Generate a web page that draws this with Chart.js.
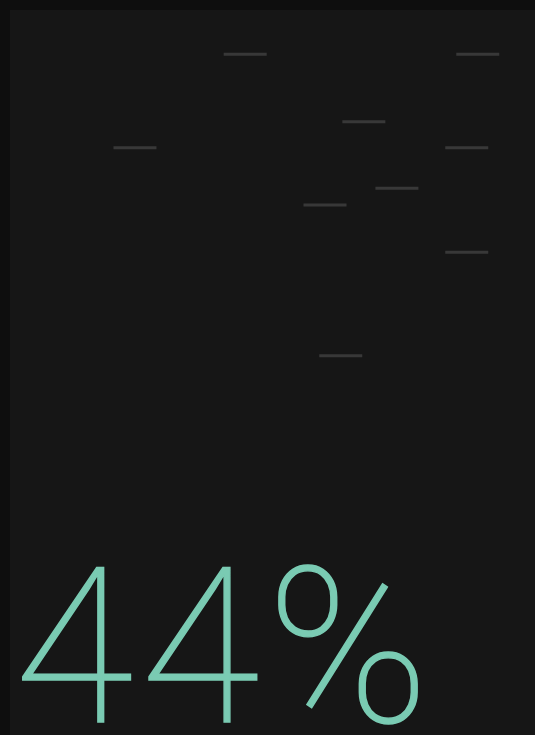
<!DOCTYPE html>
<html>
<head>
<meta charset="utf-8">
<script src="https://cdn.jsdelivr.net/npm/chart.js@4"></script>
<style>
  html, body { margin: 0; padding: 0; background: #0e0e0e; }
  #wrap { position: relative; width: 535px; height: 735px; }
</style>
</head>
<body>
<div id="wrap"><canvas id="dashChart" width="535" height="735"></canvas></div>
<script>
// Values (0-100 on both axes)
const xValues = [44.8, 89.1, 23.8, 67.4, 87.0, 73.7, 60.0, 87.0, 63.0];
const yValues = [93.9, 93.9, 81.0, 84.6, 81.0, 75.4, 73.1, 66.6, 52.3];
const bigLabel = '44%';

const points = xValues.map((x, i) => ({ x: x, y: yValues[i] }));

// panel background + big number
const panelPlugin = {
    id: 'panel',
    beforeDraw(chart) {
        const c = chart.ctx;
        c.save();
        c.fillStyle = '#161616';
        c.fillRect(10, 10, chart.width - 10, chart.height - 10);
        c.restore();
    },
    afterDraw(chart) {
        const c = chart.ctx;
        c.save();
        c.fillStyle = '#7acbb3';
        c.strokeStyle = '#7acbb3';
        c.lineWidth = 1.4;
        c.font = '100 218px Roboto, Lato, sans-serif';
        c.letterSpacing = '7px';
        c.textBaseline = 'alphabetic';
        c.fillText(bigLabel, 14, 722);
        c.strokeText(bigLabel, 14, 722);
        c.restore();
    }
};

new Chart(document.getElementById('dashChart'), {
    type: 'scatter',
    data: {
        datasets: [{
            data: points,
            pointStyle: 'line',
            pointRadius: 21.5,
            pointHoverRadius: 21.5,
            pointBorderWidth: 3,
            pointBorderColor: '#383838',
            pointBackgroundColor: '#383838'
        }]
    },
    options: {
        responsive: false,
        animation: false,
        layout: { autoPadding: false, padding: { left: 10, top: 10 } },
        plugins: { legend: { display: false }, tooltip: { enabled: false } },
        scales: {
            x: { display: false, min: 0, max: 100 },
            y: { display: false, min: 0, max: 100 }
        }
    },
    plugins: [panelPlugin]
});
</script>
</body>
</html>
